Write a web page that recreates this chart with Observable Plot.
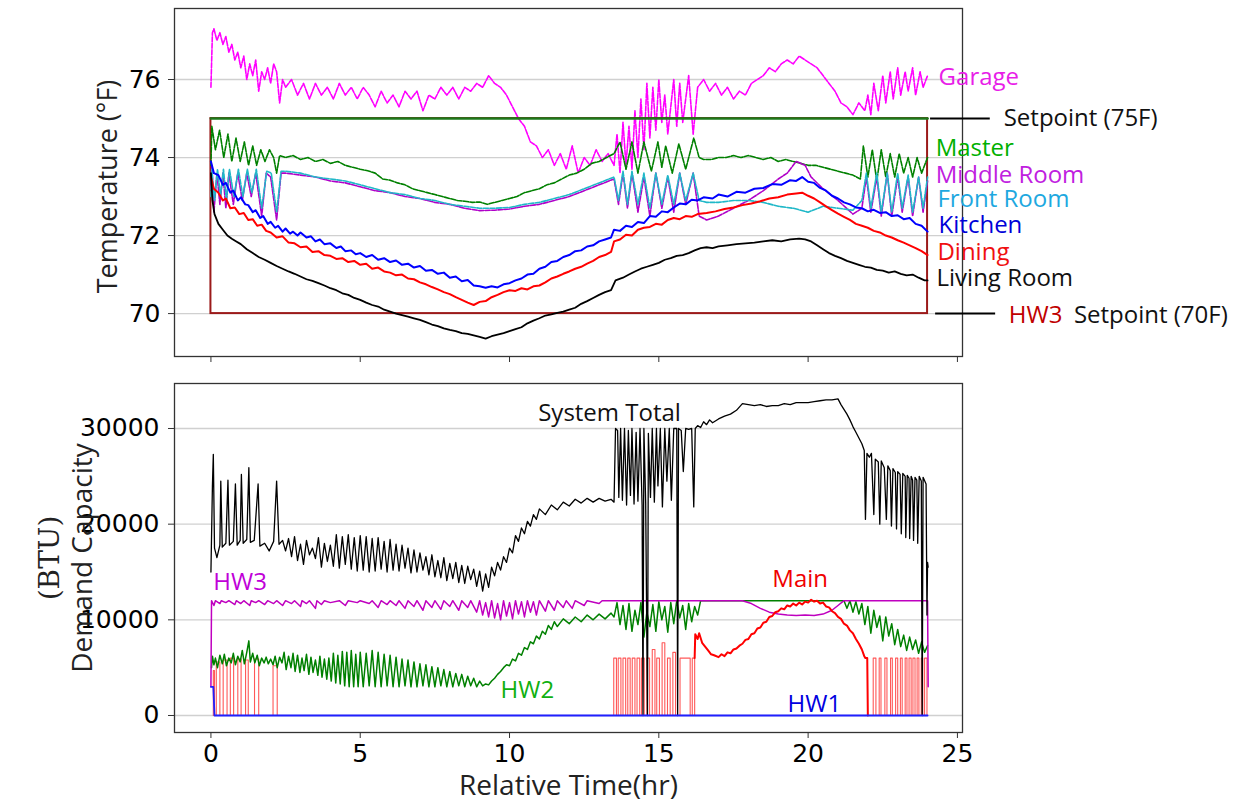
<!DOCTYPE html>
<html><head><meta charset="utf-8">
<script src="https://cdn.jsdelivr.net/npm/d3@7"></script>
<script src="https://cdn.jsdelivr.net/npm/@observablehq/plot@0.6"></script>
<style>
body{margin:0;background:#fff;}
#top,#bot{position:absolute;left:0;}
#top{top:0}
#bot{top:370px}
svg{overflow:visible}
</style></head><body><div id="top"></div><div id="bot"></div>
<script>
// ---------------- DATA (time in hours) ----------------
const xTicks = [0, 5, 10, 15, 20, 25];
const tempTicks = [70, 72, 74, 76];
const btuTicks = [0, 10000, 20000, 30000];
const setpointHigh = 75, setpointLow = 70, periodStart = 0, periodEnd = 24;

const garage = [[0,75.8],[0.05,77.2],[0.1,77.3],[0.2,77.0],[0.3,77.2],[0.4,76.9],[0.5,77.1],[0.6,76.7],[0.7,76.9],[0.8,76.5],[0.9,76.7],[1.0,76.3],[1.1,76.6],[1.2,76.0],[1.3,76.4],[1.4,76.1],[1.5,76.5],[1.6,75.7],[1.7,76.2],[1.8,76.0],[1.9,76.3],[2.0,75.9],[2.1,76.4],[2.2,76.2],[2.3,75.4],[2.4,76.0],[2.5,75.8],[2.7,76.0],[2.9,75.6],[3.1,75.9],[3.3,75.5],[3.5,75.9],[3.7,75.6],[3.9,75.8],[4.1,75.5],[4.3,75.9],[4.5,75.6],[4.7,75.8],[4.9,75.5],[5.1,75.8],[5.3,75.6],[5.5,75.3],[5.7,75.7],[5.9,75.4],[6.1,75.6],[6.3,75.3],[6.5,75.7],[6.7,75.5],[6.9,75.7],[7.1,75.2],[7.3,75.6],[7.5,75.5],[7.7,75.8],[7.9,75.6],[8.1,75.8],[8.3,75.5],[8.5,75.8],[8.7,75.7],[8.9,75.9],[9.1,75.8],[9.3,76.1],[9.5,75.9],[9.7,75.8],[9.9,75.6],[10.1,75.3],[10.3,75.0],[10.5,74.8],[10.7,74.4],[10.9,74.3],[11.1,74.0],[11.3,74.2],[11.5,73.8],[11.7,74.1],[11.9,73.7],[12.1,74.3],[12.3,73.6],[12.5,74.0],[12.7,73.8],[12.9,74.2],[13.1,73.9],[13.3,74.1],[13.5,73.8],[13.6,74.6],[13.7,73.6],[13.8,74.9],[13.9,73.8],[14.0,74.8],[14.1,73.7],[14.2,75.2],[14.3,74.0],[14.4,75.5],[14.5,74.2],[14.6,75.9],[14.7,74.5],[14.8,75.8],[14.9,74.7],[15.0,76.0],[15.1,74.9],[15.2,75.6],[15.3,74.6],[15.5,76.0],[15.6,74.8],[15.7,75.9],[15.8,74.9],[16.0,76.1],[16.15,74.6],[16.3,75.8],[16.5,76.0],[16.7,75.7],[16.9,75.9],[17.1,75.6],[17.3,75.8],[17.5,75.5],[17.7,75.7],[17.9,75.6],[18.1,75.9],[18.3,76.0],[18.5,76.1],[18.7,76.3],[18.9,76.2],[19.1,76.4],[19.3,76.5],[19.5,76.4],[19.7,76.6],[19.9,76.5],[20.1,76.4],[20.3,76.3],[20.5,76.1],[20.7,75.9],[20.9,75.7],[21.1,75.4],[21.3,75.3],[21.5,75.1],[21.7,75.4],[21.9,75.2],[22.0,75.6],[22.1,75.1],[22.2,75.9],[22.35,75.2],[22.5,76.1],[22.6,75.4],[22.75,76.2],[22.85,75.5],[23.0,76.3],[23.1,75.6],[23.25,76.2],[23.35,75.7],[23.5,76.3],[23.6,75.6],[23.75,76.2],[23.85,75.8],[24.0,76.1]];

const master = [[0,73.8],[0.03,74.8],[0.15,74.2],[0.29,74.7],[0.43,74.0],[0.57,74.6],[0.7,73.9],[0.84,74.5],[0.98,73.9],[1.12,74.4],[1.26,73.8],[1.4,74.3],[1.53,73.8],[1.67,74.2],[1.81,73.9],[1.96,74.2],[2.1,74.0],[2.2,73.6],[2.3,74.05],[2.5,74.0],[2.75,74.05],[3.0,73.95],[3.25,74.0],[3.5,73.9],[3.75,73.95],[4.0,73.85],[4.25,73.9],[4.5,73.8],[4.75,73.75],[5.0,73.7],[5.25,73.66],[5.5,73.6],[5.75,73.45],[6.0,73.42],[6.25,73.35],[6.5,73.3],[6.75,73.2],[7.0,73.15],[7.25,73.1],[7.5,73.05],[7.75,73.0],[8.0,72.95],[8.25,72.9],[8.5,72.88],[8.75,72.85],[9.0,72.86],[9.25,72.8],[9.5,72.85],[9.75,72.9],[10.0,72.95],[10.25,73.0],[10.5,73.1],[10.75,73.15],[11.0,73.2],[11.25,73.3],[11.5,73.35],[11.75,73.45],[12.0,73.55],[12.25,73.6],[12.5,73.7],[12.75,73.85],[13.0,73.9],[13.25,74.0],[13.5,74.1],[13.7,74.4],[13.9,73.7],[14.1,74.4],[14.3,73.6],[14.5,74.4],[14.75,73.65],[14.97,74.4],[15.1,73.75],[15.23,74.3],[15.45,73.6],[15.67,74.35],[15.9,73.7],[16.17,74.5],[16.35,74.0],[16.5,73.95],[16.75,73.95],[17.0,74.0],[17.25,74.0],[17.5,74.05],[17.75,74.0],[18.0,74.05],[18.25,74.0],[18.5,73.95],[18.75,74.0],[19.0,73.9],[19.25,73.95],[19.5,73.9],[19.75,73.85],[20.0,73.8],[20.25,73.8],[20.5,73.75],[20.75,73.7],[21.0,73.65],[21.25,73.6],[21.5,73.55],[21.75,73.45],[21.85,74.3],[22.0,73.5],[22.15,74.2],[22.3,73.4],[22.45,74.2],[22.6,73.5],[22.75,74.1],[22.9,73.5],[23.05,74.1],[23.2,73.6],[23.35,74.0],[23.5,73.5],[23.65,74.0],[23.8,73.6],[24.0,74.0]];

const middleRoom = [[0,73.2],[0.03,73.8],[0.1,72.6],[0.2,73.6],[0.3,72.8],[0.4,73.6],[0.5,72.7],[0.6,73.6],[0.75,72.8],[0.9,73.6],[1.05,72.9],[1.2,73.6],[1.35,73.0],[1.5,73.6],[1.7,72.5],[1.85,73.6],[2.0,73.5],[2.2,72.4],[2.35,73.6],[2.5,73.6],[3.0,73.55],[3.5,73.5],[4.0,73.4],[4.5,73.35],[5.0,73.25],[5.5,73.15],[6.0,73.1],[6.5,73.0],[7.0,72.95],[7.5,72.85],[8.0,72.8],[8.5,72.7],[9.0,72.64],[9.5,72.65],[10.0,72.68],[10.5,72.75],[11.0,72.8],[11.5,72.9],[12.0,73.0],[12.5,73.15],[13.0,73.3],[13.5,73.45],[13.65,72.8],[13.8,73.6],[13.95,72.7],[14.1,73.6],[14.3,72.6],[14.5,73.5],[14.7,72.5],[14.9,73.6],[15.1,72.7],[15.3,73.5],[15.5,72.6],[15.7,73.6],[15.9,72.8],[16.15,73.6],[16.35,72.5],[16.6,72.4],[17.0,72.5],[17.5,72.7],[18.0,72.9],[18.5,73.15],[19.0,73.45],[19.3,73.6],[19.6,73.9],[19.9,73.8],[20.1,73.5],[20.5,73.2],[21.0,72.9],[21.5,72.55],[21.8,72.7],[21.95,73.5],[22.1,72.6],[22.3,73.5],[22.45,72.5],[22.65,73.6],[22.8,72.5],[23.0,73.5],[23.15,72.6],[23.35,73.5],[23.5,72.5],[23.7,73.5],[23.85,72.6],[24.0,73.4]];

const frontRoom = [[0,73.0],[0.03,73.7],[0.12,72.9],[0.22,73.7],[0.32,73.0],[0.42,73.7],[0.52,72.9],[0.62,73.7],[0.77,73.0],[0.92,73.7],[1.07,73.0],[1.22,73.7],[1.37,73.1],[1.52,73.7],[1.7,72.7],[1.87,73.65],[2.02,73.6],[2.2,72.6],[2.35,73.65],[2.5,73.65],[3.0,73.6],[3.5,73.5],[4.0,73.45],[4.5,73.4],[5.0,73.3],[5.5,73.2],[6.0,73.1],[6.5,73.05],[7.0,72.95],[7.5,72.9],[8.0,72.8],[8.5,72.75],[9.0,72.7],[9.5,72.7],[10.0,72.72],[10.5,72.8],[11.0,72.85],[11.5,72.95],[12.0,73.05],[12.5,73.2],[13.0,73.35],[13.5,73.5],[13.65,72.9],[13.8,73.65],[13.95,72.8],[14.1,73.65],[14.3,72.8],[14.5,73.6],[14.7,72.7],[14.9,73.6],[15.1,72.8],[15.3,73.55],[15.5,72.8],[15.7,73.6],[15.9,72.9],[16.15,73.6],[16.35,72.9],[16.6,72.85],[17.0,72.85],[17.5,72.9],[18.0,72.9],[18.5,72.85],[19.0,72.75],[19.5,72.7],[20.0,72.6],[20.5,72.75],[21.0,72.7],[21.5,72.65],[21.8,72.9],[21.95,73.6],[22.1,72.7],[22.3,73.6],[22.45,72.6],[22.65,73.6],[22.8,72.6],[23.0,73.6],[23.15,72.7],[23.35,73.55],[23.5,72.6],[23.7,73.5],[23.85,72.7],[24.0,73.5]];

const kitchen = [[0,73.9],[0.1,73.6],[0.25,73.55],[0.4,73.3],[0.5,73.35],[0.65,73.1],[0.75,73.15],[0.9,72.9],[1.0,72.98],[1.15,72.8],[1.25,72.78],[1.4,72.6],[1.5,72.65],[1.65,72.45],[1.75,72.5],[1.9,72.3],[2.0,72.35],[2.15,72.2],[2.25,72.25],[2.4,72.1],[2.5,72.18],[2.65,72.05],[2.75,72.1],[2.9,72.0],[3.0,72.08],[3.2,71.95],[3.35,71.98],[3.5,71.85],[3.65,71.9],[3.8,71.78],[4.0,71.8],[4.2,71.68],[4.35,71.72],[4.5,71.6],[4.7,71.62],[4.85,71.52],[5.0,71.55],[5.2,71.45],[5.4,71.5],[5.6,71.38],[5.8,71.42],[6.0,71.32],[6.2,71.36],[6.4,71.25],[6.6,71.28],[6.8,71.18],[7.0,71.22],[7.2,71.1],[7.4,71.12],[7.6,71.02],[7.8,71.05],[8.0,70.92],[8.2,70.95],[8.4,70.83],[8.6,70.86],[8.8,70.72],[9.0,70.7],[9.2,70.66],[9.4,70.7],[9.6,70.67],[9.8,70.75],[10.0,70.78],[10.2,70.85],[10.4,70.9],[10.6,71.0],[10.8,71.02],[11.0,71.15],[11.2,71.2],[11.4,71.32],[11.6,71.35],[11.8,71.45],[12.0,71.5],[12.2,71.6],[12.4,71.62],[12.6,71.72],[12.8,71.75],[13.0,71.85],[13.2,71.9],[13.4,71.95],[13.5,72.15],[13.7,72.12],[13.9,72.25],[14.1,72.22],[14.3,72.35],[14.5,72.32],[14.7,72.5],[14.9,72.48],[15.1,72.62],[15.3,72.6],[15.5,72.72],[15.7,72.82],[15.9,72.8],[16.1,72.92],[16.3,72.9],[16.5,72.98],[16.8,72.95],[17.0,73.05],[17.3,73.0],[17.6,73.12],[17.9,73.1],[18.2,73.2],[18.5,73.22],[18.8,73.32],[19.1,73.3],[19.4,73.42],[19.6,73.4],[19.8,73.5],[20.0,73.38],[20.2,73.35],[20.4,73.22],[20.6,73.15],[20.8,73.02],[21.0,72.95],[21.2,72.85],[21.4,72.8],[21.6,72.72],[21.8,72.7],[22.0,72.62],[22.2,72.66],[22.4,72.58],[22.6,72.6],[22.8,72.5],[23.0,72.52],[23.2,72.42],[23.4,72.45],[23.6,72.3],[23.8,72.25],[24.0,72.1]];

const dining = [[0,73.5],[0.1,73.2],[0.25,73.1],[0.4,72.9],[0.5,72.95],[0.65,72.7],[0.8,72.72],[0.95,72.55],[1.1,72.58],[1.25,72.4],[1.4,72.42],[1.55,72.25],[1.7,72.28],[1.85,72.12],[2.0,72.08],[2.2,71.95],[2.4,71.98],[2.6,71.82],[2.8,71.8],[3.0,71.7],[3.2,71.72],[3.4,71.58],[3.6,71.6],[3.8,71.5],[4.0,71.48],[4.2,71.4],[4.4,71.42],[4.6,71.32],[4.8,71.35],[5.0,71.25],[5.2,71.28],[5.4,71.15],[5.6,71.18],[5.8,71.08],[6.0,71.05],[6.2,70.98],[6.4,71.0],[6.6,70.9],[6.8,70.88],[7.0,70.8],[7.2,70.75],[7.4,70.68],[7.6,70.62],[7.8,70.55],[8.0,70.5],[8.2,70.42],[8.4,70.35],[8.6,70.28],[8.8,70.22],[9.0,70.3],[9.2,70.32],[9.4,70.42],[9.6,70.48],[9.8,70.55],[10.0,70.6],[10.2,70.58],[10.4,70.65],[10.6,70.62],[10.8,70.7],[11.0,70.72],[11.2,70.8],[11.4,70.9],[11.6,70.95],[11.8,71.02],[12.0,71.08],[12.2,71.15],[12.4,71.2],[12.6,71.28],[12.8,71.35],[13.0,71.45],[13.2,71.5],[13.4,71.58],[13.5,71.85],[13.7,71.9],[13.9,72.02],[14.1,72.0],[14.3,72.15],[14.5,72.2],[14.7,72.22],[14.9,72.3],[15.1,72.28],[15.3,72.4],[15.5,72.45],[15.7,72.42],[15.9,72.5],[16.1,72.48],[16.3,72.55],[16.6,72.58],[16.9,72.62],[17.2,72.68],[17.5,72.72],[17.8,72.78],[18.1,72.82],[18.4,72.88],[18.7,72.95],[19.0,72.98],[19.3,73.05],[19.6,73.08],[19.8,73.1],[20.0,73.02],[20.2,72.95],[20.4,72.85],[20.6,72.75],[20.8,72.65],[21.0,72.56],[21.2,72.48],[21.4,72.4],[21.6,72.3],[21.8,72.25],[22.0,72.2],[22.2,72.12],[22.4,72.08],[22.6,72.0],[22.8,71.95],[23.0,71.88],[23.2,71.82],[23.4,71.75],[23.6,71.68],[23.8,71.6],[24.0,71.5]];

const livingRoom = [[0,73.6],[0.05,72.9],[0.12,72.55],[0.25,72.3],[0.4,72.15],[0.55,72.0],[0.7,71.92],[0.85,71.85],[1.0,71.78],[1.2,71.65],[1.4,71.55],[1.6,71.45],[1.8,71.38],[2.0,71.3],[2.2,71.22],[2.4,71.15],[2.6,71.08],[2.8,71.02],[3.0,70.95],[3.2,70.88],[3.4,70.84],[3.6,70.78],[3.8,70.72],[4.0,70.65],[4.2,70.6],[4.4,70.52],[4.6,70.48],[4.8,70.4],[5.0,70.35],[5.2,70.28],[5.4,70.22],[5.6,70.18],[5.8,70.1],[6.0,70.05],[6.2,70.0],[6.4,69.96],[6.6,69.92],[6.8,69.88],[7.0,69.84],[7.2,69.78],[7.4,69.72],[7.6,69.68],[7.8,69.62],[8.0,69.58],[8.2,69.55],[8.4,69.5],[8.6,69.48],[8.8,69.44],[9.0,69.4],[9.2,69.36],[9.4,69.42],[9.6,69.46],[9.8,69.5],[10.0,69.55],[10.2,69.6],[10.4,69.65],[10.6,69.75],[10.8,69.82],[11.0,69.88],[11.2,69.95],[11.4,69.98],[11.6,70.02],[11.8,70.05],[12.0,70.1],[12.2,70.15],[12.4,70.25],[12.6,70.32],[12.8,70.4],[13.0,70.48],[13.2,70.55],[13.4,70.6],[13.55,70.85],[13.8,70.92],[14.0,71.0],[14.2,71.08],[14.4,71.15],[14.6,71.2],[14.8,71.25],[15.0,71.3],[15.2,71.38],[15.4,71.42],[15.6,71.48],[15.8,71.5],[16.0,71.55],[16.2,71.62],[16.4,71.68],[16.6,71.7],[16.8,71.68],[17.0,71.72],[17.3,71.75],[17.6,71.78],[17.9,71.8],[18.2,71.82],[18.5,71.85],[18.8,71.88],[19.1,71.85],[19.4,71.9],[19.7,71.92],[19.9,71.9],[20.1,71.85],[20.3,71.75],[20.5,71.65],[20.7,71.55],[20.9,71.48],[21.1,71.42],[21.3,71.35],[21.5,71.3],[21.7,71.25],[21.9,71.2],[22.1,71.18],[22.3,71.12],[22.5,71.1],[22.7,71.05],[22.9,71.08],[23.1,71.02],[23.3,70.98],[23.5,71.0],[23.7,70.92],[23.9,70.85],[24.0,70.85]];

// ---- Demand (BTU) ----
const systemTotal = [[0,15000],[0.05,24000],[0.08,27300],[0.12,17500],[0.2,16500],[0.3,17800],[0.33,24500],[0.38,17600],[0.5,18000],[0.57,24600],[0.62,17800],[0.75,18200],[0.82,24200],[0.88,17800],[0.98,18300],[1.02,25200],[1.08,18000],[1.2,18400],[1.27,25900],[1.32,18100],[1.45,18300],[1.58,24200],[1.64,17700],[1.8,18000],[1.95,17200],[2.1,18200],[2.2,24500],[2.28,17900],[2.4,18300],[2.5,17200],[2.6,18500],[2.7,16600],[2.8,18700],[2.9,16200],[3.0,17900],[3.1,15800],[3.2,18300],[3.3,16800],[3.4,17500],[3.5,16400],[3.6,18600],[3.7,15500],[3.8,18000],[3.9,16100],[4.0,17800],[4.1,15600],[4.2,18900],[4.3,15400],[4.4,18700],[4.5,15800],[4.6,18900],[4.7,15300],[4.8,18600],[4.9,15100],[5.0,18800],[5.1,15200],[5.2,18700],[5.3,15000],[5.4,18500],[5.5,15100],[5.6,18600],[5.7,15300],[5.8,18200],[5.9,15000],[6.0,18400],[6.1,15200],[6.2,17900],[6.3,15100],[6.4,17800],[6.5,15400],[6.6,17500],[6.7,14900],[6.8,17300],[6.9,15000],[7.0,17000],[7.1,15200],[7.2,16600],[7.3,14700],[7.4,16800],[7.5,14500],[7.6,16200],[7.7,14400],[7.8,16500],[7.9,14100],[8.0,15900],[8.1,14300],[8.2,16000],[8.3,13900],[8.4,15700],[8.5,13800],[8.6,15600],[8.7,14200],[8.8,15300],[8.9,13500],[9.0,15100],[9.1,13000],[9.2,14800],[9.3,13400],[9.4,15500],[9.5,14600],[9.6,16000],[9.7,15200],[9.8,16600],[9.9,16000],[10.0,17500],[10.1,17000],[10.2,18800],[10.3,18200],[10.4,19600],[10.5,19000],[10.6,20300],[10.7,19800],[10.8,21000],[10.9,20500],[11.0,21600],[11.2,21000],[11.4,22000],[11.6,21500],[11.8,22300],[12.0,21900],[12.2,22600],[12.4,22200],[12.6,22700],[12.8,22300],[13.0,22700],[13.2,22400],[13.4,22600],[13.5,22300],[13.55,30000],[13.62,29800],[13.66,22800],[13.72,30000],[13.78,22500],[13.85,30000],[13.92,22000],[13.98,29800],[14.05,23000],[14.1,30000],[14.17,22100],[14.24,29600],[14.3,22400],[14.37,30000],[14.44,22000],[14.47,0],[14.5,30000],[14.56,22200],[14.62,0],[14.65,29500],[14.72,22800],[14.78,30000],[14.85,22300],[14.92,30000],[14.97,24000],[15.05,30000],[15.12,21800],[15.2,30000],[15.27,24500],[15.35,30000],[15.42,22500],[15.5,30000],[15.6,30000],[15.63,0],[15.66,30000],[15.75,29800],[15.82,25500],[15.9,30000],[16.0,29900],[16.1,30000],[16.17,21800],[16.22,30000],[16.3,30300],[16.4,30100],[16.5,30700],[16.6,30400],[16.7,30900],[16.8,30600],[17.0,31000],[17.2,31300],[17.4,31500],[17.6,31900],[17.8,32600],[18.0,32500],[18.2,32400],[18.4,32500],[18.6,32300],[18.8,32400],[19.0,32400],[19.2,32600],[19.4,32500],[19.6,32700],[19.8,32700],[20.0,32700],[20.2,32800],[20.4,32900],[20.6,33000],[20.8,33000],[21.0,33100],[21.1,32500],[21.2,32000],[21.3,31500],[21.4,30900],[21.5,30200],[21.6,29600],[21.7,29000],[21.8,28400],[21.88,27700],[21.92,20500],[21.97,27400],[22.05,27000],[22.12,27400],[22.2,21000],[22.25,26800],[22.35,26500],[22.4,20000],[22.45,26600],[22.55,25900],[22.62,20500],[22.67,26100],[22.75,25600],[22.79,19800],[22.84,25800],[22.92,25400],[22.96,19500],[23.0,25500],[23.08,25200],[23.12,19000],[23.17,25300],[23.25,25000],[23.27,18600],[23.32,25100],[23.38,24800],[23.4,18500],[23.45,25000],[23.5,24600],[23.53,18300],[23.58,24900],[23.64,24600],[23.67,18000],[23.72,25000],[23.79,24500],[23.82,0],[23.85,24900],[23.95,24200],[23.98,10500],[24.0,16000],[24.02,15500]];

const hw3 = [[0,3000],[0.02,12000],[0.1,11500],[0.15,12000],[0.3,11700],[0.35,12000],[0.5,11800],[0.6,12000],[0.8,11600],[0.85,12000],[1.0,11700],[1.1,12000],[1.3,11500],[1.35,12000],[1.5,11800],[1.6,12000],[1.8,11600],[1.9,12000],[2.1,11700],[2.2,12000],[2.4,11500],[2.5,12000],[2.7,11700],[2.8,12000],[3.0,11400],[3.05,12000],[3.2,11700],[3.3,12000],[3.5,11200],[3.55,12000],[3.7,11600],[3.8,12000],[4.0,11800],[4.3,12000],[4.5,11500],[4.6,12000],[4.9,11800],[5.0,12000],[5.3,11700],[5.4,12000],[5.6,11300],[5.7,12000],[5.9,11600],[6.0,12000],[6.2,11500],[6.3,12000],[6.5,11200],[6.6,12000],[6.8,11400],[6.9,12000],[7.1,11000],[7.2,12000],[7.4,11300],[7.5,12000],[7.7,11100],[7.8,12000],[8.0,11400],[8.1,12000],[8.3,11000],[8.4,12000],[8.6,11300],[8.7,12000],[8.9,10800],[9.0,12000],[9.1,10500],[9.2,11800],[9.3,10300],[9.4,12000],[9.5,10200],[9.6,11700],[9.7,10000],[9.8,12000],[9.9,10400],[10.0,11800],[10.1,10100],[10.2,12000],[10.3,10600],[10.4,11900],[10.5,10300],[10.6,12000],[10.7,10800],[10.8,11900],[10.9,10500],[11.0,12000],[11.2,10900],[11.3,12000],[11.5,11000],[11.6,12000],[11.8,11300],[11.9,12000],[12.1,11200],[12.2,12000],[12.5,11500],[12.6,12000],[13.0,11700],[13.1,12000],[17.8,12000],[18.1,11700],[18.4,11200],[18.7,10800],[19.0,10600],[19.3,10500],[19.6,10450],[19.9,10500],[20.2,10450],[20.5,10600],[20.8,11000],[21.0,11500],[21.2,12000],[24,12000],[24.02,3000]];

const hw2 = [[0.02,5000],[0.05,6200],[0.1,5300],[0.15,6000],[0.22,5000],[0.3,6300],[0.38,5400],[0.45,6400],[0.52,5200],[0.6,6000],[0.68,5500],[0.75,6500],[0.82,5300],[0.9,6200],[0.98,5600],[1.05,6800],[1.12,5400],[1.2,6600],[1.27,7800],[1.32,5600],[1.4,6500],[1.47,5500],[1.55,6300],[1.62,5200],[1.7,6000],[1.78,5500],[1.85,6100],[1.92,5400],[2.0,5900],[2.08,5300],[2.15,6200],[2.22,5000],[2.3,6100],[2.38,5500],[2.45,6600],[2.52,4800],[2.6,6200],[2.68,5000],[2.75,6500],[2.82,4600],[2.9,6300],[2.98,4500],[3.05,6000],[3.12,4700],[3.2,6400],[3.28,4300],[3.35,6100],[3.42,4500],[3.5,5800],[3.58,4200],[3.65,6200],[3.72,4000],[3.8,5900],[3.88,3800],[3.95,6000],[4.03,3600],[4.1,6500],[4.18,3400],[4.25,6300],[4.33,3300],[4.4,6700],[4.48,3100],[4.55,6600],[4.63,3000],[4.7,6800],[4.78,3000],[4.85,6400],[4.93,3000],[5.0,6600],[5.1,3000],[5.2,6500],[5.3,3100],[5.4,6800],[5.5,3000],[5.6,6600],[5.7,3000],[5.8,6400],[5.9,3100],[6.0,6300],[6.1,3000],[6.2,6100],[6.3,3000],[6.4,5900],[6.5,3100],[6.6,5800],[6.7,3000],[6.8,5600],[6.9,3000],[7.0,5400],[7.1,3100],[7.2,5300],[7.3,3000],[7.4,5100],[7.5,3000],[7.6,5000],[7.7,3100],[7.8,4800],[7.9,3000],[8.0,4600],[8.1,3000],[8.2,4400],[8.3,3100],[8.4,4300],[8.5,3000],[8.6,4100],[8.7,3100],[8.8,3900],[8.9,3000],[9.0,3600],[9.1,3100],[9.2,3300],[9.3,3200],[9.4,3600],[9.5,3900],[9.6,4300],[9.7,4600],[9.8,5000],[9.9,5300],[10.0,5200],[10.1,5900],[10.2,5700],[10.3,6500],[10.4,6300],[10.5,7100],[10.6,6900],[10.7,7700],[10.8,7500],[10.9,8300],[11.0,8000],[11.1,8800],[11.2,8500],[11.3,9400],[11.4,9000],[11.5,9800],[11.6,9300],[11.8,10100],[12.0,9600],[12.2,10300],[12.4,9800],[12.6,10500],[12.8,10000],[13.0,10600],[13.2,10100],[13.4,10700],[13.5,10300],[13.6,11800],[13.7,9500],[13.8,11500],[13.9,9000],[14.0,11700],[14.1,8800],[14.2,11000],[14.3,9500],[14.4,11800],[14.5,8200],[14.6,10800],[14.7,9300],[14.8,11600],[14.9,8800],[15.0,11900],[15.1,10000],[15.2,11400],[15.3,8700],[15.4,11800],[15.5,9600],[15.6,12000],[15.7,10200],[15.8,11500],[15.9,9000],[16.0,11700],[16.1,9800],[16.2,11400],[16.3,10500],[16.4,12000],[21.2,12000],[21.3,11200],[21.4,12000],[21.5,10800],[21.6,11900],[21.7,10600],[21.8,11700],[21.9,9500],[22.0,11400],[22.1,8600],[22.2,11000],[22.3,9200],[22.4,10400],[22.5,7800],[22.6,10300],[22.7,8300],[22.8,9600],[22.9,7400],[23.0,9000],[23.1,7200],[23.2,8400],[23.3,6800],[23.4,8200],[23.5,6900],[23.6,7900],[23.7,6500],[23.8,7700],[23.9,6600],[24.0,7300]];

// Main: on/off pulses [start, end, level] and the continuous modulated stretch
const mainPulses = [[0.08,0.12,4700],[0.18,0.3,5600],[0.41,0.54,5800],[0.65,0.76,6000],[0.9,1.01,5900],[1.16,1.25,5800],[1.46,1.6,5900],[2.08,2.22,5200],
  [13.49,13.58,6000],[13.64,13.73,6000],[13.8,13.89,6000],[13.96,14.04,6000],[14.11,14.2,6000],[14.27,14.36,6000],[14.42,14.51,6000],[14.6,14.69,6000],[14.78,14.87,6900],[14.93,15.02,6000],[15.11,15.2,7600],[15.29,15.38,6000],[15.47,15.56,6600],[15.71,16.05,6000],[16.12,16.2,6000],
  [22.18,22.27,6000],[22.38,22.44,6000],[22.57,22.64,6000],[22.76,22.82,6000],[22.93,23.0,6000],[23.09,23.15,6000],[23.25,23.31,6000],[23.38,23.45,6000],[23.51,23.58,6000],[23.65,23.71,6000],[23.79,23.84,6000],[23.9,23.98,6000]];
const mainCurve = [[16.2,6000],[16.22,8500],[16.3,8000],[16.35,8600],[16.45,7600],[16.55,7200],[16.65,6800],[16.75,6400],[16.85,6300],[17.0,6100],[17.1,6400],[17.2,6200],[17.3,6600],[17.4,6500],[17.5,6900],[17.6,7000],[17.7,7300],[17.8,7500],[17.9,7900],[18.0,8000],[18.1,8500],[18.2,8600],[18.3,9100],[18.4,9200],[18.5,9700],[18.6,9800],[18.7,10300],[18.8,10400],[18.9,10800],[19.0,10900],[19.1,11200],[19.2,11100],[19.3,11500],[19.4,11400],[19.5,11700],[19.6,11500],[19.7,11800],[19.8,11600],[19.9,11900],[20.0,11800],[20.1,12100],[20.2,11900],[20.3,12000],[20.4,11700],[20.5,11800],[20.6,11400],[20.7,11300],[20.8,10900],[20.9,10700],[21.0,10300],[21.1,10100],[21.2,9600],[21.3,9400],[21.4,8900],[21.5,8600],[21.6,8000],[21.7,7500],[21.8,6900],[21.88,6200],[21.92,6000],[21.98,6000],[22.0,0]];

const hw1 = [[0,3000],[0.08,3000],[0.12,0],[24,0]];

// ---------------- RENDER ----------------
const W = 1259;
const xDomain = [-1.22, 25.17];
const TF = "'DejaVu Sans', sans-serif";
const LF = "'Open Sans', sans-serif";
const X = d => d[0], Y = d => d[1];
const AF = 24; // annotation font size

const pulsePts = [];
for (const [a, b, h] of mainPulses) pulsePts.push([a, 0], [a, h], [b, h], [b, 0]);

const tempRect = [{x1: periodStart, x2: periodEnd, y1: setpointLow, y2: setpointHigh}];
const spLine = [[periodStart, setpointHigh], [periodEnd, setpointHigh]];

const topPlot = Plot.plot({
  width: W, height: 370,
  marginLeft: 174, marginRight: W - 962, marginTop: 8, marginBottom: 14,
  x: {domain: xDomain},
  y: {domain: [68.90, 77.82]},
  style: {fontFamily: TF, background: "white", overflow: "visible"},
  marks: [
    Plot.gridY(tempTicks, {stroke: "#d0d0d0", strokeOpacity: 1, strokeWidth: 1.3}),
    Plot.line(garage, {x: X, y: Y, stroke: "#ff00ff", strokeWidth: 1.6, strokeDasharray: "5,1.5"}),
    Plot.rect(tempRect, {x1: "x1", x2: "x2", y1: "y1", y2: "y2", fill: "none", stroke: "#9b1a1a", strokeWidth: 2}),
    Plot.line(spLine, {x: X, y: Y, stroke: "#1b7a1b", strokeWidth: 2.6}),
    Plot.line(master, {x: X, y: Y, stroke: "#008000", strokeWidth: 1.6, strokeDasharray: "5,1.5"}),
    Plot.line(middleRoom, {x: X, y: Y, stroke: "#b000c8", strokeWidth: 1.6, strokeDasharray: "5,1.5"}),
    Plot.line(frontRoom, {x: X, y: Y, stroke: "#20b8c8", strokeWidth: 1.6, strokeDasharray: "5,1.5"}),
    Plot.line(kitchen, {x: X, y: Y, stroke: "#0000ff", strokeWidth: 2}),
    Plot.line(dining, {x: X, y: Y, stroke: "#ff0000", strokeWidth: 2}),
    Plot.line(livingRoom, {x: X, y: Y, stroke: "#000", strokeWidth: 1.8}),
    Plot.frame({stroke: "#333", strokeWidth: 1.3}),
    Plot.axisY(tempTicks, {tickSize: 6, tickPadding: 8, fontSize: 25, label: null, stroke: "#333"}),
    Plot.axisX(xTicks, {tickSize: 6, tickFormat: () => "", label: null, stroke: "#333"}),
    Plot.text(["Temperature (°F)"], {frameAnchor: "left", textAnchor: "middle", lineAnchor: "middle", dx: -66, dy: 4, rotate: -90, fontSize: 27, fontFamily: LF, fill: "#222"}),
    // right-side annotations
    Plot.ruleY([setpointHigh], {x1: 24.1, x2: 26.1, stroke: "#000", strokeWidth: 2}),
    Plot.ruleY([setpointLow], {x1: 24.27, x2: 26.28, stroke: "#000", strokeWidth: 2}),
    Plot.text(["Garage"], {x: 24.37, y: 76.05, fill: "#e81ee8", fontSize: AF, fontFamily: LF, textAnchor: "start"}),
    Plot.text(["Setpoint (75F)"], {x: 26.55, y: 75.0, fill: "#111", fontSize: AF, fontFamily: LF, textAnchor: "start"}),
    Plot.text(["Master"], {x: 24.27, y: 74.23, fill: "#00b000", fontSize: AF, fontFamily: LF, textAnchor: "start"}),
    Plot.text(["Middle Room"], {x: 24.27, y: 73.54, fill: "#c020e0", fontSize: AF, fontFamily: LF, textAnchor: "start"}),
    Plot.text(["Front Room"], {x: 24.33, y: 72.92, fill: "#1ea8e0", fontSize: AF, fontFamily: LF, textAnchor: "start"}),
    Plot.text(["Kitchen"], {x: 24.37, y: 72.26, fill: "#0000d8", fontSize: AF, fontFamily: LF, textAnchor: "start"}),
    Plot.text(["Dining"], {x: 24.33, y: 71.56, fill: "#f01010", fontSize: AF, fontFamily: LF, textAnchor: "start"}),
    Plot.text(["Living Room"], {x: 24.3, y: 70.9, fill: "#111", fontSize: AF, fontFamily: LF, textAnchor: "start"}),
    Plot.text(["HW3"], {x: 26.72, y: 69.95, fill: "#c00000", fontSize: AF, fontFamily: LF, textAnchor: "start"}),
    Plot.text(["Setpoint (70F)"], {x: 28.9, y: 69.95, fill: "#111", fontSize: AF, fontFamily: LF, textAnchor: "start"})
  ]
});
document.getElementById("top").append(topPlot);

const botPlot = Plot.plot({
  width: W, height: 433,
  marginLeft: 174, marginRight: W - 962, marginTop: 13, marginBottom: 71,
  x: {domain: xDomain},
  y: {domain: [-1777, 34703]},
  style: {fontFamily: TF, background: "white", overflow: "visible"},
  marks: [
    Plot.gridY(btuTicks, {stroke: "#d0d0d0", strokeOpacity: 1, strokeWidth: 1.3}),
    Plot.line(pulsePts, {x: X, y: Y, stroke: "#ff2020", strokeWidth: 1.1, strokeOpacity: 0.75}),
    Plot.line(hw2, {x: X, y: Y, stroke: "#008000", strokeWidth: 1.5}),
    Plot.line(hw3, {x: X, y: Y, stroke: "#bf00bf", strokeWidth: 1.5}),
    Plot.line(mainCurve, {x: X, y: Y, stroke: "#ff0000", strokeWidth: 2}),
    Plot.line(systemTotal, {x: X, y: Y, stroke: "#000", strokeWidth: 1.3}),
    Plot.line(hw1, {x: X, y: Y, stroke: "#2020ff", strokeWidth: 1.8}),
    Plot.frame({stroke: "#333", strokeWidth: 1.3}),
    Plot.axisY(btuTicks, {tickSize: 6, tickPadding: 9, fontSize: 25, label: null, tickFormat: d3.format("d"), stroke: "#333"}),
    Plot.axisX(xTicks, {tickSize: 6, tickPadding: 6, fontSize: 25, label: null, tickFormat: d3.format("d"), stroke: "#333"}),
    Plot.text(["Demand Capacity"], {frameAnchor: "left", textAnchor: "middle", lineAnchor: "middle", dx: -91, rotate: -90, fontSize: 28, fontFamily: LF, fill: "#222"}),
    Plot.text(["(BTU)"], {frameAnchor: "left", textAnchor: "middle", lineAnchor: "middle", dx: -124, rotate: -90, fontSize: 28, fontFamily: "'DejaVu Serif', 'Liberation Serif', serif", fill: "#222"}),
    Plot.text(["Relative Time(hr)"], {frameAnchor: "bottom", textAnchor: "middle", lineAnchor: "middle", dy: 54, fontSize: 28, fontFamily: LF, fill: "#222"}),
    Plot.text(["System Total"], {x: 13.35, y: 31566, fill: "#111", fontSize: AF, fontFamily: LF}),
    Plot.text(["HW3"], {x: 0.08, y: 13900, fill: "#c000d8", fontSize: AF, fontFamily: LF, textAnchor: "start"}),
    Plot.text(["Main"], {x: 18.8, y: 14215, fill: "#f00000", fontSize: AF, fontFamily: LF, textAnchor: "start"}),
    Plot.text(["HW2"], {x: 9.7, y: 2613, fill: "#10b010", fontSize: AF, fontFamily: LF, textAnchor: "start"}),
    Plot.text(["HW1"], {x: 19.31, y: 1150, fill: "#0000e0", fontSize: AF, fontFamily: LF, textAnchor: "start"})
  ]
});
document.getElementById("bot").append(botPlot);
</script></body></html>
